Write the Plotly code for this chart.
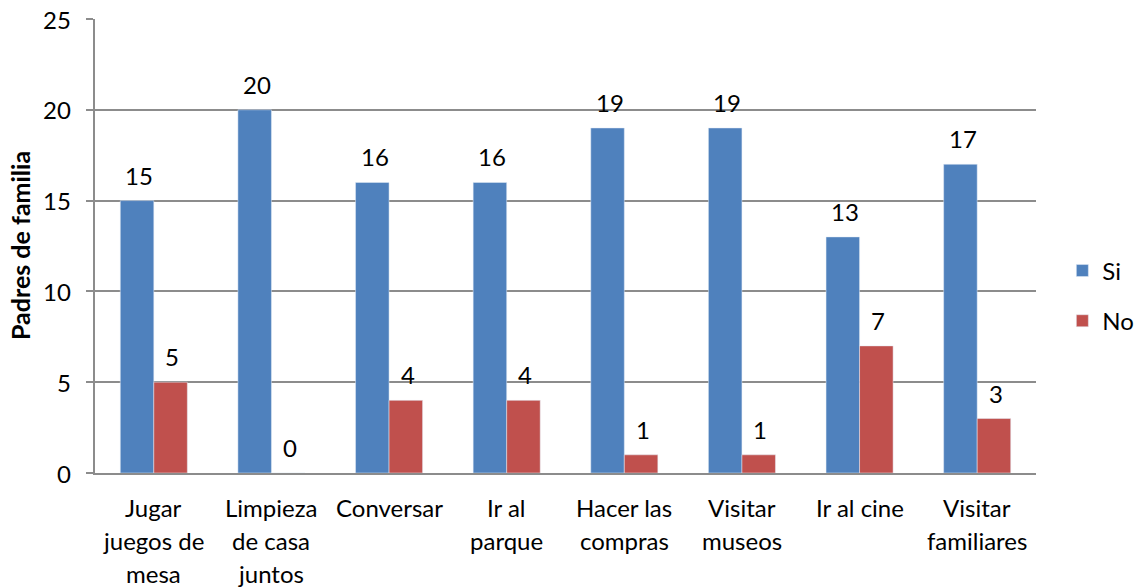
import plotly.graph_objects as go

categories = ["Jugar<br>juegos de<br>mesa", "Limpieza<br>de casa<br>juntos", "Conversar", "Ir al<br>parque",
              "Hacer las<br>compras", "Visitar<br>museos", "Ir al cine", "Visitar<br>familiares"]
si_values = [15, 20, 16, 16, 19, 19, 13, 17]
no_values = [5, 0, 4, 4, 1, 1, 7, 3]
y_ticks = [0, 5, 10, 15, 20, 25]
y_title = "Padres de familia"

FONT = "Lato, 'Open Sans', sans-serif"
BLUE = "#4F81BD"
RED = "#C0504D"
GRID = "#8C8C8C"
FS = 24

fig = go.Figure()
fig.add_trace(go.Bar(x=categories, y=si_values, name="Si", marker_color=BLUE, legendgroup="si"))
fig.add_trace(go.Bar(x=categories, y=no_values, name="No", marker_color=RED, legendgroup="no"))

annotations = []
# data labels
for vals, shift in ((si_values, -16.5), (no_values, 16.5)):
    for c, v in zip(categories, vals):
        annotations.append(dict(x=c, y=v, xref="x", yref="y", text=str(v), showarrow=False,
                                xshift=shift + 2, yshift=9, yanchor="bottom",
                                font=dict(family=FONT, size=FS, color="black")))
# category labels, line by line
for c in categories:
    for i, line in enumerate(c.split("<br>")):
        annotations.append(dict(x=c, y=0, xref="x", yref="paper", text=line, showarrow=False,
                                yanchor="middle", yshift=-34 - 33 * i,
                                font=dict(family=FONT, size=FS, color="black")))
# y tick labels
for v in y_ticks:
    annotations.append(dict(x=0, y=v, xref="paper", yref="y", text=str(v), showarrow=False,
                            xanchor="right", yanchor="middle", xshift=-22,
                            font=dict(family=FONT, size=FS, color="black")))
# y axis title
annotations.append(dict(x=0, y=0.5, xref="paper", yref="paper", text="<b>" + y_title + "</b>",
                        showarrow=False, textangle=-90, xanchor="center", yanchor="middle",
                        xshift=-75, font=dict(family=FONT, size=25, color="black")))

fig.update_layout(
    width=1138, height=587,
    margin=dict(l=95, r=102, t=19, b=114, autoexpand=False),
    paper_bgcolor="white", plot_bgcolor="white",
    barmode="group", bargap=0.43, bargroupgap=0,
    font=dict(family=FONT, size=FS, color="black"),
    showlegend=True,
    legend=dict(x=1.028, y=0.39, xanchor="left", yanchor="middle",
                font=dict(family=FONT, size=FS, color="black"),
                tracegroupgap=16, itemwidth=30, bgcolor="rgba(0,0,0,0)"),
    annotations=annotations,
)
fig.update_xaxes(showticklabels=False, showline=True, linecolor=GRID, linewidth=2,
                 showgrid=False, ticks="", zeroline=False)
fig.update_yaxes(range=[0, 25], tickvals=y_ticks, showgrid=True, gridcolor=GRID, gridwidth=2,
                 showline=True, linecolor=GRID, linewidth=2, ticks="outside", ticklen=7,
                 tickcolor=GRID, tickwidth=2, zeroline=False, showticklabels=False,
                 automargin=False)

fig.write_html("out.html", config={"displayModeBar": False},
               post_script="document.body.style.margin='0';")
